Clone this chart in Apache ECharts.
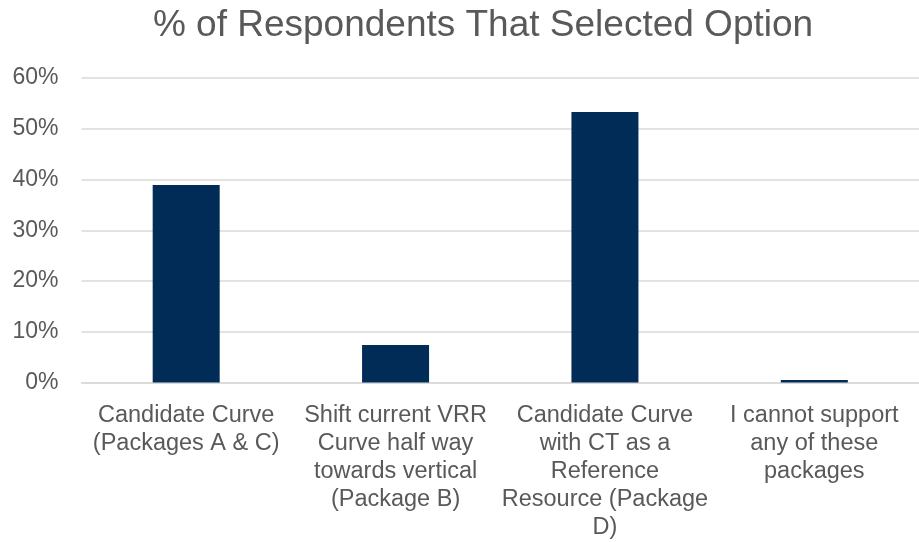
<!DOCTYPE html>
<html><head><meta charset="utf-8">
<script src="https://cdn.jsdelivr.net/npm/echarts@6/dist/echarts.min.js"></script>
<style>html,body{margin:0;padding:0;background:#fff}#c{width:919px;height:542px}</style>
</head><body><div id="c"></div>
<script>
const categories = [
  "Candidate Curve\n(Packages A & C)",
  "Shift current VRR\nCurve half way\ntowards vertical\n(Package B)",
  "Candidate Curve\nwith CT as a\nReference\nResource (Package\nD)",
  "I cannot support\nany of these\npackages"
];
const values = [38.9, 7.4, 53.3, 0.5];
const yTicks = [0, 10, 20, 30, 40, 50, 60];

const chart = echarts.init(document.getElementById('c'), null, {renderer: 'canvas'});
chart.setOption({
  animation: false,
  title: {
    text: '% of Respondents That Selected Option',
    left: 478, top: 2, textAlign: 'center',
    textStyle: {fontFamily: 'Liberation Sans, Arial', fontSize: 37, fontWeight: 'normal', color: '#595959'}
  },
  grid: {left: 81.5, top: 78, width: 844, height: 304.5, containLabel: false},
  xAxis: {
    type: 'category', data: categories,
    axisLine: {lineStyle: {color: '#d9d9d9', width: 1.5}},
    axisTick: {show: false},
    axisLabel: {interval: 0, margin: 19, lineHeight: 28, fontFamily: 'Liberation Sans, Arial', fontSize: 23.5, color: '#595959'}
  },
  yAxis: {
    type: 'value', min: yTicks[0], max: yTicks[yTicks.length - 1], interval: 10,
    axisLine: {show: false}, axisTick: {show: false},
    splitLine: {lineStyle: {color: '#d9d9d9', width: 1.5}},
    axisLabel: {formatter: v => v + '%', margin: 23, fontFamily: 'Liberation Sans, Arial', fontSize: 23, color: '#595959'}
  },
  series: [{
    type: 'bar', data: values, barWidth: 67,
    itemStyle: {color: '#012c57'}
  }]
});
</script></body></html>
